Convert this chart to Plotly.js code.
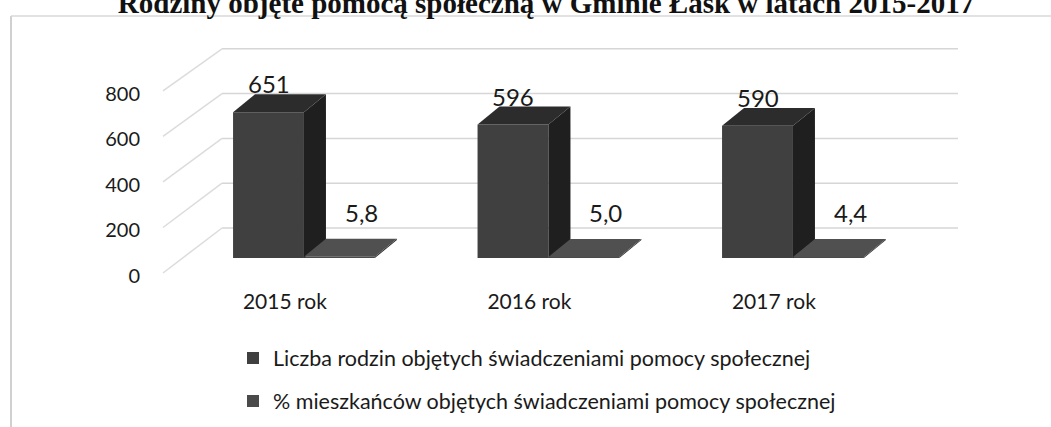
<!DOCTYPE html>
<html><head><meta charset="utf-8">
<script src="https://cdn.plot.ly/plotly-3.0.1.min.js"></script>
<style>html,body{margin:0;padding:0;background:#fff}#chart{width:1051px;height:427px}</style>
</head><body><div id="chart"></div>
<script>
// ---- data ----
const years = ['2015 rok', '2016 rok', '2017 rok'];
const families = [651, 596, 590];
const residentsPct = [5.8, 5.0, 4.4];
const seriesNames = [
  'Liczba rodzin objętych świadczeniami pomocy społecznej',
  '% mieszkańców objętych świadczeniami pomocy społecznej'
];
const yTicks = [0, 200, 400, 600, 800];
const titleText = 'Rodziny objęte pomocą społeczną w Gminie Łask w latach 2015-2017';

// ---- geometry (layout only) ----
const W = 1051, H = 427;
const L = 141, R = 1000, T = 30, B = 285;
const PX0 = 268.5, PXSTEP = 244.5;
const PY0 = 258, PYUNIT = 0.224;
const xRange = [(L - PX0) / PXSTEP, (R - PX0) / PXSTEP];
const yRange = [(PY0 - B) / PYUNIT, (PY0 - T) / PYUNIT];
const BW = 0.29, OFF = [-0.145, 0.145];
const DX = 0.09, DY = 80;            // bar depth
const FRONT0 = -67, BACK0 = 134;     // floor front / back edge
const LABEL0 = FRONT0 - 12;          // tick label baseline tweak
const XF = -0.4315, XB = -0.19, XE = 2.82;
const LBL_DX = [0, 0.38], LBL_SHIFT = [-6, 10];
const px2paperX = px => (px - L) / (R - L);
const py2paperY = py => (B - py) / (B - T);
const py2contY = py => 1 - py / H;

const FONT = 'Lato, "Open Sans", sans-serif';
const xs = years.map((_, i) => i);
const seriesVals = [families, residentsPct];
const frontCol = ['#404040', '#4a4a4a'];
const topCol = ['#2c2c2c', '#505050'];
const sideCol = ['#1f1f1f', '#2a2a2a'];

const traces = [];
seriesVals.forEach((vals, s) => {
  traces.push({
    type: 'bar', x: xs, y: vals, offset: OFF[s], width: BW,
    name: seriesNames[s], legend: s === 0 ? 'legend' : 'legend2',
    marker: {color: frontCol[s], line: {width: 0}},
    hoverinfo: 'skip'
  });
});
// 3D faces built from values
xs.forEach(i => {
  seriesVals.forEach((vals, s) => {
    const v = vals[i];
    const x0 = i + OFF[s], x1 = x0 + BW;
    traces.push({
      type: 'scatter', mode: 'lines', fill: 'toself', fillcolor: sideCol[s],
      x: [x1, x1, x1 + DX, x1 + DX, x1], y: [0, v, v + DY, DY, 0],
      line: {width: 0}, showlegend: false, hoverinfo: 'skip'
    });
    traces.push({
      type: 'scatter', mode: 'lines', fill: 'toself', fillcolor: topCol[s],
      x: [x0, x0 + DX, x1 + DX, x1, x0], y: [v, v + DY, v + DY, v, v],
      line: {width: 0}, showlegend: false, hoverinfo: 'skip'
    });
  });
});

const shapes = [];
yTicks.forEach(v => {
  shapes.push({type: 'line', layer: 'below', xref: 'x', yref: 'y',
    x0: XB, x1: XE, y0: BACK0 + v, y1: BACK0 + v, line: {color: '#d6d6d6', width: 1.5}});
  shapes.push({type: 'line', layer: 'below', xref: 'x', yref: 'y',
    x0: XF, x1: XB, y0: FRONT0 + v * 1.016, y1: BACK0 + v, line: {color: '#dcdcdc', width: 1.5}});
});
// outer frame
shapes.push({type: 'line', xref: 'paper', yref: 'paper',
  x0: px2paperX(11), x1: px2paperX(11), y0: py2paperY(16), y1: py2paperY(440),
  line: {color: '#d0d0d0', width: 2}});
shapes.push({type: 'line', xref: 'paper', yref: 'paper',
  x0: px2paperX(11), x1: px2paperX(1060), y0: py2paperY(16), y1: py2paperY(16),
  line: {color: '#d8d8d8', width: 1.5}});

const fmt = v => (v % 1 === 0 && v > 100) ? String(v) : v.toFixed(1).replace('.', ',');
const annotations = [];
seriesVals.forEach((vals, s) => {
  vals.forEach((v, i) => {
    annotations.push({
      xref: 'x', yref: 'y', x: i + LBL_DX[s], y: v + DY, yanchor: 'bottom', xanchor: 'center',
      yshift: LBL_SHIFT[s], text: fmt(v), showarrow: false,
      font: {family: FONT, size: 24, color: '#1a1a1a'}
    });
  });
});

const layout = {
  width: W, height: H,
  margin: {l: L, r: W - R, t: T, b: H - B, pad: 0},
  paper_bgcolor: '#fff', plot_bgcolor: 'rgba(0,0,0,0)',
  title: {
    text: titleText, xref: 'container', yref: 'container',
    x: 546 / W, xanchor: 'center', y: 1 - 3 / H, yanchor: 'middle',
    font: {family: '"Liberation Serif", "Times New Roman", serif', size: 29, weight: 'bold', color: '#111'}
  },
  xaxis: {
    range: xRange, showgrid: false, zeroline: false, showline: false, ticks: '',
    tickvals: xs.map(i => i + 0.067), ticktext: years, ticklabelstandoff: 2,
    tickfont: {family: FONT, size: 21, color: '#1a1a1a'}, fixedrange: true
  },
  yaxis: {
    range: yRange, showgrid: false, zeroline: false, showline: false, ticks: '',
    tickvals: yTicks.map(v => LABEL0 + v * 1.016), ticktext: yTicks.map(String),
    tickfont: {family: FONT, size: 20, color: '#1a1a1a'}, fixedrange: true
  },
  showlegend: true,
  legend: {x: px2paperX(233), y: py2contY(358), yref: 'container', xanchor: 'left', yanchor: 'middle',
    font: {family: FONT, size: 21.5, color: '#1a1a1a'}, bgcolor: 'rgba(0,0,0,0)'},
  legend2: {x: px2paperX(233), y: py2contY(401), yref: 'container', xanchor: 'left', yanchor: 'middle',
    font: {family: FONT, size: 21.5, color: '#1a1a1a'}, bgcolor: 'rgba(0,0,0,0)'},
  shapes: shapes,
  annotations: annotations
};

Plotly.newPlot('chart', traces, layout, {displayModeBar: false, staticPlot: true});
</script>
</body></html>
